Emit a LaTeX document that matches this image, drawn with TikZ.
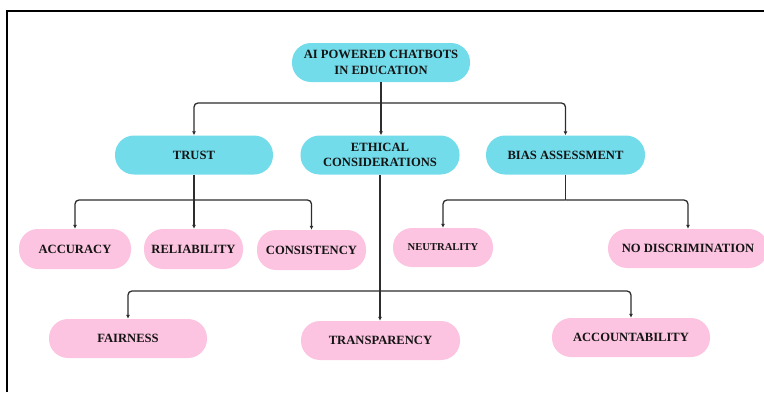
\documentclass[tikz,border=0pt]{standalone}
\usepackage{fontspec}
\setmainfont{Liberation Serif}
\usetikzlibrary{arrows.meta}
\definecolor{cyanbox}{RGB}{114,220,235}
\definecolor{pinkbox}{RGB}{252,196,224}
\definecolor{linec}{RGB}{45,45,45}
\definecolor{txt}{RGB}{20,20,20}
\tikzset{
  base/.style={rectangle, rounded corners=19pt, minimum height=39pt, inner sep=0pt,
    align=center, text=txt, font=\fontsize{12.6}{15.5}\selectfont\bfseries},
  topbox/.style={base, fill=cyanbox},
  leafbox/.style={base, fill=pinkbox},
  conn/.style={draw=linec, line width=1.3pt, rounded corners=4pt,
    -{Latex[length=4pt,width=4pt]}},
  trunk/.style={draw=linec, line width=1.3pt}
}
\begin{document}
\begin{tikzpicture}[x=1pt,y=-1pt]
\useasboundingbox (0,0) rectangle (764,392);
% frame
\draw[line width=1.2pt] (7,392) -- (7,11) -- (764,11);

% nodes
\node[topbox, minimum width=178pt] (root) at (381,62.5) {AI POWERED CHATBOTS\\IN EDUCATION};
\node[topbox, minimum width=158pt] (trust) at (194,155) {TRUST};
\node[topbox, minimum width=159pt] (ethic) at (380,155) {ETHICAL\\CONSIDERATIONS};
\node[topbox, minimum width=159pt] (bias) at (565.5,155) {BIAS ASSESSMENT};

\node[leafbox, minimum width=112pt, minimum height=40pt] (acc) at (75,249) {ACCURACY};
\node[leafbox, minimum width=99pt, minimum height=40pt] (rel) at (193.5,249) {RELIABILITY};
\node[leafbox, minimum width=109pt, minimum height=40pt] (con) at (311.5,250) {CONSISTENCY};
\node[leafbox, minimum width=100pt, font=\fontsize{10.6}{13}\selectfont\bfseries] (neu) at (443,247.5) {NEUTRALITY};
\node[leafbox, minimum width=160pt] (nod) at (688,248.5) {NO DISCRIMINATION};

\node[leafbox, minimum width=158pt] (fair) at (128,338.5) {FAIRNESS};
\node[leafbox, minimum width=159pt] (trans) at (380.5,340.5) {TRANSPARENCY};
\node[leafbox, minimum width=158pt] (acct) at (631,337.5) {ACCOUNTABILITY};

% bus junctions
\coordinate (b0) at (381,103);
\coordinate (b1) at (194,200);
\coordinate (b2) at (565.5,200);
\coordinate (b3) at (380,291);

% root connectors
\draw[conn] (root.south) -- (root.south |- ethic.north);
\draw[conn] (b0) -| (trust.north);
\draw[conn] (b0) -| (bias.north);

% trust connectors
\draw[conn] (trust.south) -- (trust.south |- rel.north);
\draw[conn] (b1) -| (acc.north);
\draw[conn] (b1) -| (con.north);

% bias connectors
\draw[trunk] (bias.south) -- (b2);
\draw[conn] (b2) -| (neu.north);
\draw[conn] (b2) -| (nod.north);

% ethical connectors
\draw[conn] (ethic.south) -- (ethic.south |- trans.north);
\draw[conn] (b3) -| (fair.north);
\draw[conn] (b3) -| (acct.north);
\end{tikzpicture}
\end{document}
